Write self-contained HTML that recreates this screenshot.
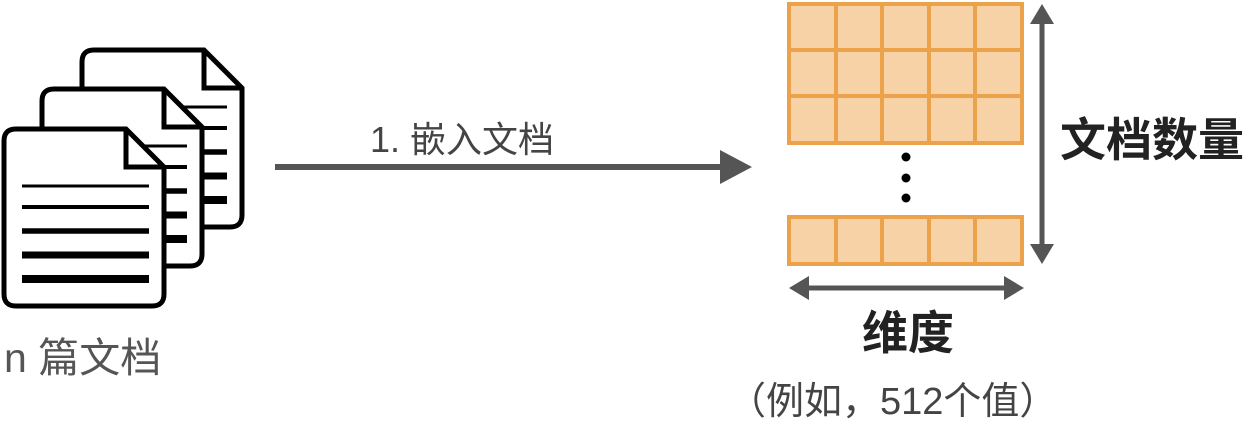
<!DOCTYPE html>
<html><head><meta charset="utf-8"><style>
body{margin:0;width:1257px;height:425px;background:#fff;overflow:hidden;position:relative;font-family:"Liberation Sans","Noto Sans CJK SC",sans-serif}
.t{position:absolute;white-space:nowrap}
</style></head><body>
<svg width="1257" height="425" style="position:absolute;left:0;top:0">
<defs>
<g id="doc">
<path d="M12 0 H122 L160 38 V165 Q160 177 148 177 H12 Q0 177 0 165 V12 Q0 0 12 0 Z" fill="#fff" stroke="#000" stroke-width="5"/>
<path d="M122 0 V38 H160" fill="none" stroke="#000" stroke-width="5"/>
<line x1="18" y1="57" x2="145" y2="57" stroke="#000" stroke-width="3"/>
<line x1="18" y1="78" x2="145" y2="78" stroke="#000" stroke-width="4"/>
<line x1="18" y1="102" x2="145" y2="102" stroke="#000" stroke-width="5.5"/>
<line x1="18" y1="126" x2="145" y2="126" stroke="#000" stroke-width="7"/>
<line x1="18" y1="150" x2="145" y2="150" stroke="#000" stroke-width="8"/>
</g>
</defs>
<use href="#doc" x="82" y="50"/>
<use href="#doc" x="42" y="89"/>
<use href="#doc" x="4" y="129"/>
<line x1="275" y1="167" x2="725" y2="167" stroke="#555" stroke-width="6"/>
<polygon points="720,150 752,167 720,184" fill="#555"/>
<g fill="#f7d2a6" stroke="#eba24a" stroke-width="4">
<rect x="789" y="4" width="233" height="139"/>
<rect x="789" y="217" width="233" height="47"/>
</g>
<g stroke="#eba24a" stroke-width="4">
<line x1="836" y1="4" x2="836" y2="143"/><line x1="882" y1="4" x2="882" y2="143"/><line x1="929" y1="4" x2="929" y2="143"/><line x1="975" y1="4" x2="975" y2="143"/>
<line x1="789" y1="50" x2="1022" y2="50"/><line x1="789" y1="96" x2="1022" y2="96"/>
<line x1="836" y1="217" x2="836" y2="264"/><line x1="882" y1="217" x2="882" y2="264"/><line x1="929" y1="217" x2="929" y2="264"/><line x1="975" y1="217" x2="975" y2="264"/>
</g>
<circle cx="906" cy="157" r="4.5" fill="#000"/><circle cx="906" cy="178" r="4.5" fill="#000"/><circle cx="906" cy="198" r="4.5" fill="#000"/>
<line x1="1042" y1="20" x2="1042" y2="248" stroke="#555" stroke-width="5"/>
<polygon points="1030,24 1042,4 1054,24" fill="#555"/><polygon points="1030,244 1042,264 1054,244" fill="#555"/>
<line x1="805" y1="288" x2="1008" y2="288" stroke="#555" stroke-width="5"/>
<polygon points="809,276 789,288 809,300" fill="#555"/><polygon points="1004,276 1024,288 1004,300" fill="#555"/>
</svg>
<div class="t" style="left:370px;top:111px;font-size:36px;color:#444">1. 嵌入文档</div>
<div class="t" style="left:1060px;top:104px;font-size:46px;color:#222;font-weight:bold">文档数量</div>
<div class="t" style="left:862px;top:297px;font-size:46px;color:#222;font-weight:bold">维度</div>
<div class="t" style="left:728px;top:370px;font-size:38px;color:#444">（例如，512个值）</div>
<div class="t" style="left:4px;top:324px;font-size:41px;color:#555">n 篇文档</div>
</body></html>
